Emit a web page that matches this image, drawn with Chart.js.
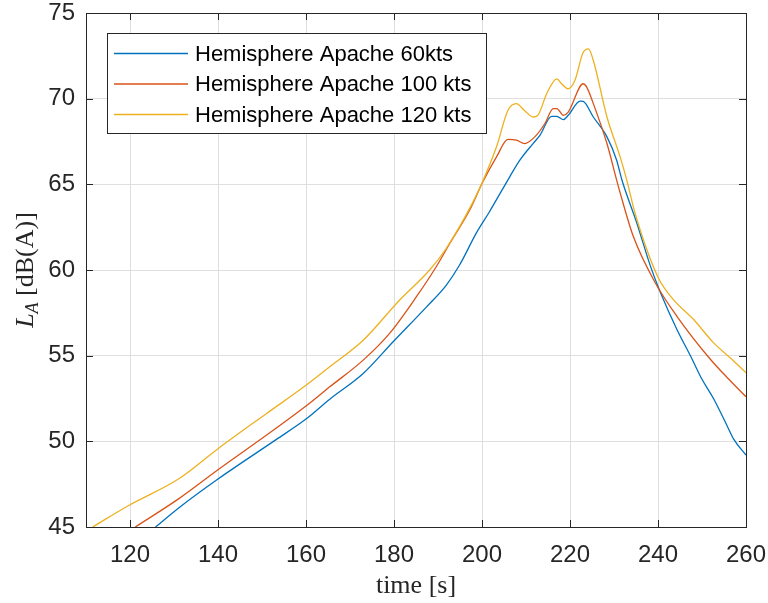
<!DOCTYPE html>
<html>
<head>
<meta charset="utf-8">
<script src="https://cdn.jsdelivr.net/npm/chart.js@4/dist/chart.umd.min.js"></script>
<style>
  html, body { margin: 0; padding: 0; background: #fff; }
  #wrap { width: 768px; height: 603px; }
</style>
</head>
<body>
<div id="wrap"><canvas id="grafico"></canvas></div>
<script>
// series: tiempo [s] y nivel LA [dB(A)]
const t60 = [125.8, 131, 140, 153.2, 160, 165.4, 173, 179.8, 187.4, 191.9, 194.9, 198.7, 201.7, 206.3, 208.6, 211.6, 213.2, 215.8, 217, 218.5, 219.6, 222.3, 223, 225.3, 228.4, 230.6, 231.8, 235.2, 238.3, 240.6, 244.3, 247.4, 250, 252.7, 255.7, 257.2, 260];
const L60 = [45, 46.1, 47.8, 50.1, 51.3, 52.46, 53.96, 55.81, 57.85, 59.12, 60.29, 62.15, 63.4, 65.44, 66.41, 67.38, 67.87, 68.97, 68.97, 68.78, 69.03, 69.86, 69.84, 68.93, 67.77, 66.41, 65.25, 62.73, 60.21, 58.66, 56.53, 54.98, 53.62, 52.46, 50.91, 50.13, 49.2];

const t100 = [121.2, 131.2, 140, 150.1, 160, 165.4, 173, 179, 185.1, 189.6, 192.7, 197.2, 200.2, 203.3, 205.9, 207.8, 209.7, 212, 214.3, 216.2, 217, 218.5, 219.6, 223, 223.8, 225.3, 228.4, 230.6, 231.4, 234.4, 239.4, 244.3, 251.9, 256.1, 260];
const L100 = [45, 46.67, 48.34, 50.19, 52.06, 53.18, 54.74, 56.3, 58.44, 60.19, 61.56, 63.5, 65.15, 66.6, 67.62, 67.58, 67.38, 67.77, 68.55, 69.42, 69.42, 69.03, 69.22, 70.87, 70.67, 69.71, 67.38, 65.25, 64.5, 61.95, 59.24, 57.3, 54.79, 53.62, 52.6];

const t120 = [111.5, 119.8, 131.2, 140, 150.9, 160, 165.4, 173, 181.3, 188.1, 191.9, 198, 200.2, 203.3, 205.9, 207.8, 209.7, 211.6, 212.7, 214.7, 217, 218.1, 219.6, 221.1, 223, 224.2, 225.3, 228.4, 231.4, 232.9, 234.8, 240.1, 243.5, 248.1, 252.6, 257.2, 260];
const L120 = [45, 46.27, 47.83, 49.57, 51.6, 53.27, 54.35, 55.9, 58.25, 60.0, 61.27, 63.99, 65.2, 67.19, 69.32, 69.71, 69.3, 68.93, 69.03, 70.29, 71.16, 70.87, 70.58, 71.06, 72.71, 72.91, 72.23, 68.93, 66.6, 65.25, 63.3, 59.53, 58.27, 57.11, 55.76, 54.69, 54.0];

const etiquetas = ['Hemisphere Apache 60kts', 'Hemisphere Apache 100 kts', 'Hemisphere Apache 120 kts'];
const ticksX = [120, 140, 160, 180, 200, 220, 240, 260];
const ticksY = [45, 50, 55, 60, 65, 70, 75];

const colorEje = '#262626';
const fuenteSans = '"Liberation Sans", Arial, sans-serif';
const fuenteSerif = '"Liberation Serif", "Times New Roman", serif';

function puntos(t, L) {
  return t.map((v, i) => ({ x: v, y: L[i] }));
}

// caja de ejes con marcas hacia dentro, titulos y leyenda
const marcoEjes = {
  id: 'marcoEjes',
  afterDraw(chart) {
    const ctx = chart.ctx;
    const a = chart.chartArea;
    const sx = chart.scales.x, sy = chart.scales.y;
    const largo = 7;
    ctx.save();
    ctx.strokeStyle = colorEje;
    ctx.lineWidth = 1;
    ctx.beginPath();
    ticksX.forEach(v => {
      const px = Math.round(sx.getPixelForValue(v)) + 0.5;
      ctx.moveTo(px, a.bottom); ctx.lineTo(px, a.bottom - largo);
      ctx.moveTo(px, a.top); ctx.lineTo(px, a.top + largo);
    });
    ticksY.forEach(v => {
      const py = Math.round(sy.getPixelForValue(v)) + 0.5;
      ctx.moveTo(a.left, py); ctx.lineTo(a.left + largo, py);
      ctx.moveTo(a.right, py); ctx.lineTo(a.right - largo, py);
    });
    ctx.stroke();
    ctx.strokeRect(Math.round(a.left) + 0.5, Math.round(a.top) + 0.5,
      Math.round(a.right - a.left), Math.round(a.bottom - a.top));

    // titulo eje x
    ctx.fillStyle = colorEje;
    ctx.font = '26px ' + fuenteSerif;
    ctx.textAlign = 'center';
    ctx.textBaseline = 'alphabetic';
    ctx.fillText('time [s]', (a.left + a.right) / 2, 593);

    // titulo eje y: L con subindice A
    ctx.translate(24, (a.top + a.bottom) / 2);
    ctx.rotate(-Math.PI / 2);
    const fL = 'italic 26px ' + fuenteSerif;
    const fA = 'italic 18px ' + fuenteSerif;
    const fR = '26px ' + fuenteSerif;
    const resto = ' [dB(A)]';
    ctx.font = fL; const wL = ctx.measureText('L').width;
    ctx.font = fA; const wA = ctx.measureText('A').width;
    ctx.font = fR; const wR = ctx.measureText(resto).width;
    let x0 = -(wL + wA + wR) / 2;
    const base = 9;
    ctx.textAlign = 'left';
    ctx.font = fL; ctx.fillText('L', x0, base); x0 += wL;
    ctx.font = fA; ctx.fillText('A', x0, base + 5); x0 += wA;
    ctx.font = fR; ctx.fillText(resto, x0, base);
    ctx.restore();

    // leyenda
    ctx.save();
    const bx = 107, by = 33, bw = 379, bh = 100;
    ctx.fillStyle = '#fff';
    ctx.fillRect(bx, by, bw, bh);
    ctx.strokeStyle = colorEje;
    ctx.lineWidth = 1;
    ctx.strokeRect(bx + 0.5, by + 0.5, bw, bh);
    ctx.font = '22px ' + fuenteSans;
    ctx.textBaseline = 'middle';
    ctx.textAlign = 'left';
    chart.data.datasets.forEach((ds, i) => {
      const fy = 53.5 + i * 30.5;
      ctx.strokeStyle = ds.borderColor;
      ctx.lineWidth = 1.3;
      ctx.beginPath();
      ctx.moveTo(114, fy); ctx.lineTo(188, fy);
      ctx.stroke();
      ctx.fillStyle = '#000';
      ctx.fillText(ds.label, 195, fy + 1);
    });
    ctx.restore();
  }
};

const ctx = document.getElementById('grafico').getContext('2d');
new Chart(ctx, {
  type: 'line',
  data: {
    datasets: [
      { label: etiquetas[0], data: puntos(t60, L60), borderColor: '#0072BD', order: 3 },
      { label: etiquetas[1], data: puntos(t100, L100), borderColor: '#D95319', order: 2 },
      { label: etiquetas[2], data: puntos(t120, L120), borderColor: '#EDB120', order: 1 }
    ]
  },
  options: {
    responsive: true,
    maintainAspectRatio: false,
    animation: false,
    layout: { padding: { left: 0, top: 13, right: 22, bottom: 0 } },
    elements: {
      line: { borderWidth: 1.3, tension: 0, fill: false, cubicInterpolationMode: 'monotone' },
      point: { radius: 0 }
    },
    plugins: {
      legend: { display: false },
      tooltip: { enabled: false }
    },
    scales: {
      x: {
        type: 'linear',
        min: 110,
        max: 260,
        afterBuildTicks: s => { s.ticks = ticksX.map(v => ({ value: v })); },
        afterFit: s => { s.height = 76; s.paddingLeft = 0; s.paddingRight = 0; },
        grid: { color: '#dfdfdf', drawTicks: false },
        border: { display: false },
        ticks: { color: colorEje, font: { family: fuenteSans, size: 24 }, padding: 14, maxRotation: 0 }
      },
      y: {
        min: 45,
        max: 75,
        afterBuildTicks: s => { s.ticks = ticksY.map(v => ({ value: v })); },
        afterFit: s => { s.width = 86; s.paddingTop = 0; s.paddingBottom = 0; },
        grid: { color: '#dfdfdf', drawTicks: false },
        border: { display: false },
        ticks: { color: colorEje, font: { family: fuenteSans, size: 24 }, padding: 11 }
      }
    }
  },
  plugins: [marcoEjes]
});
</script>
</body>
</html>
